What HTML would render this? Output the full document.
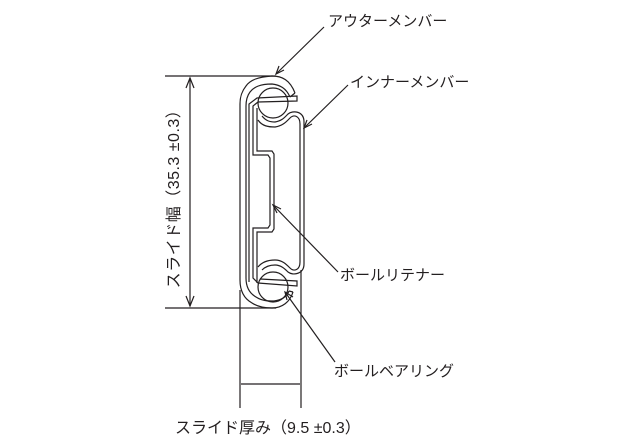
<!DOCTYPE html>
<html><head><meta charset="utf-8"><style>
html,body{margin:0;padding:0;background:#fff;}
svg{display:block;}
text{font-family:"Liberation Sans","Noto Sans CJK JP",sans-serif;fill:#231f20;}
</style></head><body>
<svg width="640" height="448" viewBox="0 0 640 448" xmlns="http://www.w3.org/2000/svg">
<g fill="none" stroke="#231f20" stroke-width="1.2">
<line x1="165" y1="76" x2="276" y2="76"/>
<line x1="165" y1="308" x2="276" y2="308"/>
<line x1="190" y1="78" x2="190" y2="306"/>
<polyline points="186,88 190,78 194,88"/>
<polyline points="186,296 190,306 194,296"/>
<line x1="240" y1="290" x2="240" y2="408"/>
<line x1="301" y1="270" x2="301" y2="408"/>
<line x1="241" y1="384" x2="300" y2="384"/>
<path d="M295,93 C290,80 282,76 272,76 C258,77 250,80 246,86 C242,91 240,96 240,104 L240,280 C240,290 243,298 252,303 C258,307 265,308 272,308 C282,308 290,302 293,292"/>
<path d="M290,97 C286,88 280,85 272,84 C260,84 254,87 250,92 C247,96 246,100 246,106 L246,278 C246,287 249,293 256,297 C262,301 268,301 274,301 C282,300 287,296 289,291"/>
<line x1="290" y1="97" x2="295" y2="93"/>
<line x1="289" y1="291" x2="293" y2="292"/>
<circle cx="273" cy="103" r="15"/>
<circle cx="273" cy="287" r="15"/>
<path d="M249,282 L249,104 L257,98 L297,96 L297,101 L258,102 L253,106 L253,155 L268,155 L270,158 L270,225 L268,228 L253,228 L253,278 L258,283 L297,286 L297,281 L260,279"/>
<path d="M257,283 L257,232 L272,232 L274,229 L274,154 L272,151 L257,151 L257,108"/>
<path d="M258,120 C262,126 268,127 275,127 C283,126 287,121 290,118 C294,114 300,116 300,124 L300,262 C300,270 294,272 290,268 C286,264 282,260 275,260 C268,260 262,262 258,267"/>
<path d="M262,116 C266,121 270,122 275,122 C282,121 285,117 288,114 C293,110 304,111 304,122 L304,264 C304,274 293,276 288,272 C285,269 281,265 275,265 C270,265 266,266 262,270"/>
<line x1="324" y1="27" x2="276" y2="74"/>
<polyline points="279,66 276,74 284,70"/>
<line x1="348" y1="85" x2="304" y2="128"/>
<polyline points="307,120 304,128 312,124"/>
<line x1="338" y1="272" x2="273" y2="205"/>
<polyline points="281,209 273,205 277,213"/>
<line x1="335" y1="362" x2="285" y2="292"/>
<polyline points="293,297 285,292 287,300"/>
</g>
<g font-size="15">
<text x="328" y="26">アウターメンバー</text>
<text x="350" y="87">インナーメンバー</text>
<text x="340" y="280">ボールリテナー</text>
<text x="334" y="376">ボールベアリング</text>
</g>
<g font-size="16">
<text x="175" y="433">スライド厚み（9.5 ±0.3）</text>
<text transform="translate(179,195) rotate(-90)" text-anchor="middle" letter-spacing="0.5">スライド幅（35.3 ±0.3）</text>
</g>
</svg>
</body></html>
